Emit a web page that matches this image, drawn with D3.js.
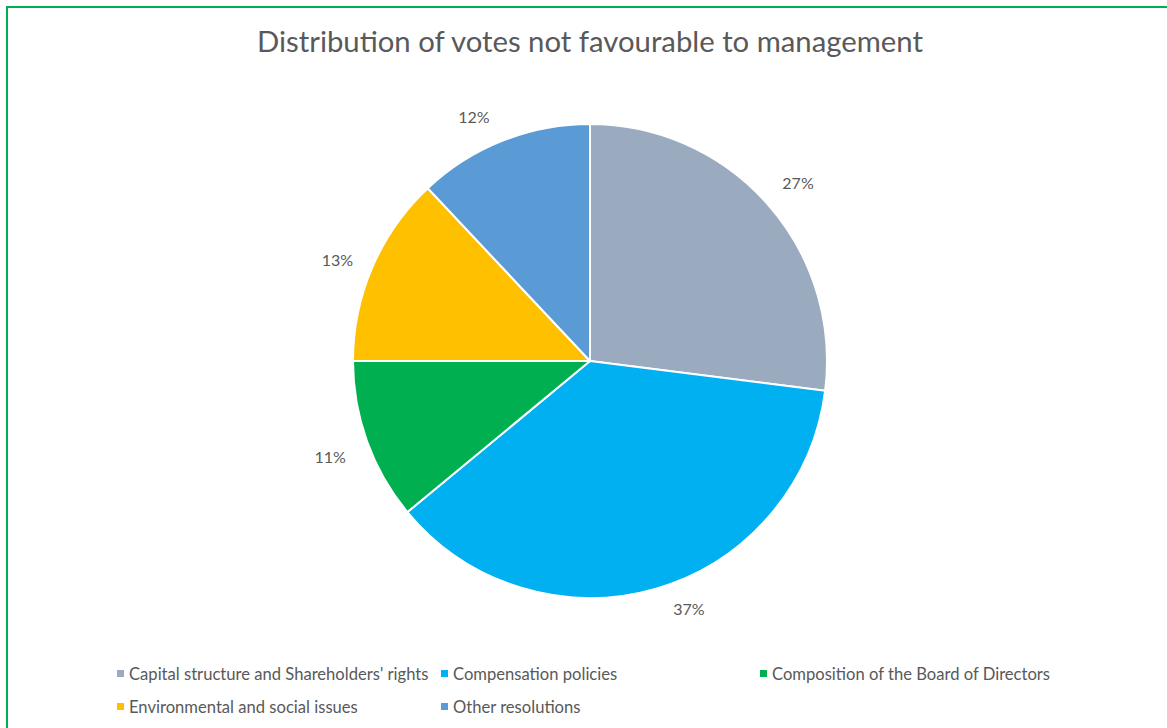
<!DOCTYPE html>
<html>
<head>
<meta charset="utf-8">
<script src="https://cdn.jsdelivr.net/npm/d3@7"></script>
<style>
  html, body { margin: 0; padding: 0; background: #ffffff; }
  svg { display: block; }
  text { font-family: Lato, "Open Sans", sans-serif; fill: #595959; }
</style>
</head>
<body>
<svg id="chart" width="1167" height="728"></svg>
<script>
// Share of votes not favourable to management, by resolution type
const categories = [
  "Capital structure and Shareholders' rights",
  "Compensation policies",
  "Composition of the Board of Directors",
  "Environmental and social issues",
  "Other resolutions"
];
const shares = [27, 37, 11, 13, 12];
const colors = ["#9aaabf", "#00b0f0", "#00b050", "#ffc000", "#5b9bd5"];
const title = "Distribution of votes not favourable to management";

// small pixel nudges for the outside percentage labels
const labelNudge = [[4, 2], [23, -13], [-4, 4], [-3, 7], [-16, 9]];

const data = categories.map((c, i) => ({ name: c, value: shares[i], color: colors[i] }));

const svg = d3.select("#chart");
const W = 1167, H = 728;

// frame
svg.append("rect")
  .attr("x", 7).attr("y", 7)
  .attr("width", W + 20).attr("height", H + 20)
  .attr("fill", "none")
  .attr("stroke", "#00b050")
  .attr("stroke-width", 2);

// title
svg.append("text")
  .attr("x", 590).attr("y", 52)
  .attr("text-anchor", "middle")
  .style("font-size", "29.3px")
  .text(title);

// pie
const cx = 590, cy = 361, R = 237, labelR = 272;
const pie = d3.pie().value(d => d.value).sort(null);
const arc = d3.arc().innerRadius(0).outerRadius(R);
const labelArc = d3.arc().innerRadius(labelR).outerRadius(labelR);

const g = svg.append("g").attr("transform", `translate(${cx},${cy})`);
const arcs = pie(data);

g.selectAll("path.slice")
  .data(arcs)
  .join("path")
  .attr("class", "slice")
  .attr("d", arc)
  .attr("fill", d => d.data.color)
  .attr("stroke", "#ffffff")
  .attr("stroke-width", 2)
  .attr("stroke-linejoin", "round");

g.selectAll("text.pct")
  .data(arcs)
  .join("text")
  .attr("class", "pct")
  .attr("transform", (d, i) => {
    const [x, y] = labelArc.centroid(d);
    return `translate(${x + labelNudge[i][0]},${y + labelNudge[i][1]})`;
  })
  .attr("text-anchor", "middle")
  .attr("dy", "0.35em")
  .style("font-size", "16px")
  .text(d => d.data.value + "%");

// legend
const legendPos = [
  { x: 117, y: 674 },
  { x: 441, y: 674 },
  { x: 760, y: 674 },
  { x: 117, y: 707 },
  { x: 441, y: 707 }
];
const legend = svg.append("g")
  .selectAll("g")
  .data(data)
  .join("g")
  .attr("transform", (d, i) => `translate(${legendPos[i].x},${legendPos[i].y})`);

legend.append("rect")
  .attr("x", 0).attr("y", -4)
  .attr("width", 7).attr("height", 7)
  .attr("fill", d => d.color);

legend.append("text")
  .attr("x", 12).attr("y", 0)
  .attr("dy", "0.35em")
  .style("font-size", "16.6px")
  .text(d => d.name);
</script>
</body>
</html>
